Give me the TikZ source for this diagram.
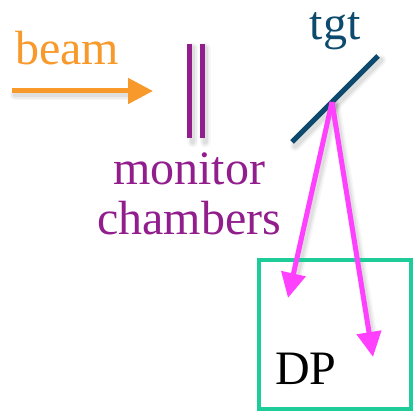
\documentclass[tikz,border=0pt]{standalone}
\usepackage{fontspec}
\setmainfont{Liberation Serif}
\usetikzlibrary{arrows.meta,calc}
\definecolor{beamorange}{HTML}{F7992B}
\definecolor{chamberpurple}{HTML}{921E8E}
\definecolor{tgtblue}{HTML}{0D4A6E}
\definecolor{trackpink}{HTML}{FF40FF}
\definecolor{dpgreen}{HTML}{1DCC98}
\tikzset{
  lbl/.style={inner sep=0pt, font=\fontsize{48}{50}\selectfont, align=center},
  shade line/.style={draw=black, line cap=round},
  bar/.style={draw=chamberpurple, line width=5pt},
  track/.style={draw=trackpink, line width=5pt, -{Triangle[length=25pt,width=24pt]}},
}
% a soft shadow under a straight stroke
\newcommand\softshade[2]{%
  \foreach \w/\o in {11/0.03,8/0.04,5/0.06}{%
    \draw[shade line, line width=\w pt, opacity=\o]
      ([shift={(3,4)}]#1) -- ([shift={(3,4)}]#2);}}
\begin{document}
\begin{tikzpicture}[x=1pt,y=-1pt]
\useasboundingbox (0,0) rectangle (413,411);
% named points
\coordinate (bs) at (12,91);
\coordinate (be) at (153,91);
\coordinate (bm) at (135,91);
\coordinate (c1t) at (189.5,44);
\coordinate (c1b) at (189.5,138);
\coordinate (c2t) at (202,44);
\coordinate (c2b) at (202,138);
\coordinate (tA) at (292,142);
\coordinate (tB) at (378,56);
\coordinate (hit) at (332,102);
\coordinate (h1) at (288,298);
\coordinate (h2) at (373,357);
\coordinate (s1) at ($(hit)!0.85!(h1)$);
\coordinate (s2) at ($(hit)!0.88!(h2)$);
% soft shadows
\softshade{bs}{bm}
\softshade{c1t}{c1b}
\softshade{c2t}{c2b}
\softshade{tA}{tB}
\softshade{hit}{s1}
\softshade{hit}{s2}
% detector box
\draw[dpgreen, line width=4pt] (259,260) rectangle (411,409);
\node[lbl, anchor=base west] (dp) at (275,385) {DP};
% beam
\node[lbl, anchor=base west, text=beamorange] (beam) at (15,65) {beam};
\draw[beamorange, line width=5pt, -{Triangle[length=25pt,width=25pt]}] (bs) -- (be);
% monitor chambers
\draw[bar] (c1t) -- (c1b);
\draw[bar] (c2t) -- (c2b);
\node[lbl, anchor=base, text=chamberpurple] (mon) at (189,235) {monitor\\chambers};
% target
\node[lbl, anchor=base, text=tgtblue] (tgt) at (335,40) {tgt};
\draw[tgtblue, line width=5pt] (tA) -- (tB);
% tracks
\draw[track] (hit) -- (h1);
\draw[track] (hit) -- (h2);
\end{tikzpicture}
\end{document}
